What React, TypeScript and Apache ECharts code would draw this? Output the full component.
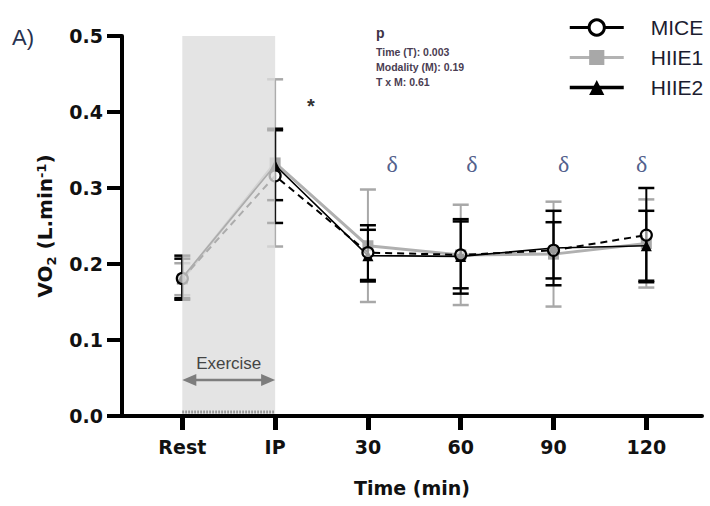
import React, { useEffect, useRef } from "react";
import * as echarts from "echarts";

const categories = ["Rest", "IP", "30", "60", "90", "120"];
const positions = [0, 1, 2, 3, 4, 5];

const miceMean = [0.181, 0.316, 0.215, 0.212, 0.218, 0.238];
const miceSd = [0.026, 0.062, 0.036, 0.044, 0.037, 0.062];
const hiie1Mean = [0.18, 0.333, 0.224, 0.212, 0.213, 0.227];
const hiie1Sd = [0.021, 0.11, 0.074, 0.066, 0.069, 0.058];
const hiie2Mean = [0.182, 0.33, 0.211, 0.21, 0.221, 0.224];
const hiie2Sd = [0.029, 0.046, 0.034, 0.049, 0.049, 0.046];

const yTicks = [0, 0.1, 0.2, 0.3, 0.4, 0.5];
const deltaPos = [2.26, 3.12, 4.11, 4.95];
const statsLines = ["Time (T): 0.003", "Modality (M): 0.19", "T x M: 0.61"];

const FONT = "Liberation Sans";
const AXFONT = "DejaVu Sans";
const GRAY = "#a8a8a8";

function pts(mean: number[]) {
  return positions.map((p, i) => [p, mean[i]]);
}
function errs(mean: number[], sd: number[]) {
  return positions.map((p, i) => [p, mean[i] - sd[i], mean[i] + sd[i]]);
}

function errorSeries(name: string, data: number[][], color: string, z: number) {
  return {
    type: "custom",
    name,
    z,
    clip: false,
    data,
    encode: { x: 0, y: [1, 2] },
    renderItem: (params: any, api: any) => {
      const x = api.value(0);
      const lo = api.coord([x, api.value(1)]);
      const hi = api.coord([x, api.value(2)]);
      const hw = 8;
      return {
        type: "group",
        children: [
          { type: "line", shape: { x1: lo[0], y1: lo[1], x2: hi[0], y2: hi[1] }, style: { stroke: color, lineWidth: 2 } },
          { type: "line", shape: { x1: hi[0] - hw, y1: hi[1], x2: hi[0] + hw, y2: hi[1] }, style: { stroke: color, lineWidth: 2.5 } },
          { type: "line", shape: { x1: lo[0] - hw, y1: lo[1], x2: lo[0] + hw, y2: lo[1] }, style: { stroke: color, lineWidth: 2.5 } },
        ],
      };
    },
  };
}

export default function App() {
  const ref = useRef<HTMLDivElement>(null);

  useEffect(() => {
    document.body.style.margin = "0";
    const chart = echarts.init(ref.current!, null, { renderer: "svg" });

    const option: any = {
      animation: false,
      backgroundColor: "#ffffff",
      grid: { left: 122, right: 8, top: 36, bottom: 90, containLabel: false, outerBoundsMode: "none" },
      legend: {
        orient: "vertical",
        left: 563,
        top: 12,
        itemWidth: 54,
        itemHeight: 19,
        itemGap: 9,
        textStyle: { fontFamily: FONT, fontSize: 21, color: "#1c1c30", padding: [0, 0, 0, 22] },
        data: [
          { name: "MICE", lineStyle: { type: "solid", width: 3, color: "#000" }, itemStyle: { color: "#fff", borderColor: "#000", borderWidth: 3 } },
          { name: "HIIE1", lineStyle: { type: "solid", width: 3, color: "#b3b3b3" } },
          { name: "HIIE2", lineStyle: { type: "solid", width: 3.5, color: "#000" } },
        ],
      },
      xAxis: {
        type: "value",
        min: -0.65,
        max: 5.6,
        splitLine: { show: false },
        axisLine: { show: true, lineStyle: { color: "#000", width: 4 } },
        axisTick: { show: true, customValues: positions, length: 14, lineStyle: { color: "#000", width: 5 } },
        axisLabel: {
          customValues: positions,
          margin: 21,
          fontFamily: AXFONT,
          fontSize: 19,
          fontWeight: "bold",
          color: "#111",
          formatter: (v: number) => categories[Math.round(v)] ?? "",
        },
        name: "Time (min)",
        nameLocation: "middle",
        nameGap: 62,
        nameTextStyle: { fontFamily: AXFONT, fontSize: 19, fontWeight: "bold", color: "#111" },
      },
      yAxis: {
        type: "value",
        min: 0,
        max: 0.5,
        interval: 0.1,
        splitLine: { show: false },
        axisLine: { show: true, onZero: false, lineStyle: { color: "#000", width: 4 } },
        axisTick: { show: true, length: 15, lineStyle: { color: "#000", width: 4 } },
        axisLabel: {
          margin: 19,
          fontFamily: AXFONT,
          fontSize: 19,
          fontWeight: "bold",
          color: "#111",
          formatter: (v: number) => {
            const t = yTicks.find((k) => Math.abs(k - v) < 1e-6);
            return (t ?? v).toFixed(1);
          },
        },
        name: "{a|VO}{b|2}{a| (L.min}{c|-1}{a|)}",
        nameLocation: "middle",
        nameRotate: 90,
        nameGap: 66,
        nameTextStyle: {
          rich: {
            a: { fontFamily: AXFONT, fontSize: 20, fontWeight: "bold", color: "#111" },
            b: { fontFamily: AXFONT, fontSize: 13, fontWeight: "bold", color: "#111", verticalAlign: "bottom", padding: [0, 0, -3, 0] },
            c: { fontFamily: AXFONT, fontSize: 13, fontWeight: "bold", color: "#111", verticalAlign: "top" },
          },
        },
      },
      series: [
        errorSeries("HIIE1 err", errs(hiie1Mean, hiie1Sd), GRAY, 2),
        errorSeries("HIIE2 err", errs(hiie2Mean, hiie2Sd), "#000", 4),
        errorSeries("MICE err", errs(miceMean, miceSd), "#000", 4),
        {
          type: "line",
          name: "HIIE1",
          z: 3,
          data: pts(hiie1Mean),
          symbol: "rect",
          symbolSize: 11,
          lineStyle: { color: "#b0b0b0", width: 3 },
          itemStyle: { color: GRAY },
        },
        {
          type: "line",
          name: "HIIE2",
          z: 5,
          data: pts(hiie2Mean),
          symbol: "triangle",
          symbolSize: 11,
          lineStyle: { color: "#000", width: 1.6 },
          itemStyle: { color: "#000" },
        },
        {
          type: "line",
          name: "MICE",
          z: 6,
          data: pts(miceMean),
          symbol: "circle",
          symbolSize: 11,
          lineStyle: { color: "#000", width: 2, type: [7, 5] },
          itemStyle: { color: "rgba(255,255,255,0.6)", borderColor: "#000", borderWidth: 2.2 },
        },
        {
          type: "custom",
          name: "Exercise",
          z: 10,
          clip: false,
          silent: true,
          data: [[0]],
          renderItem: (params: any, api: any) => {
            const p0 = api.coord([0, 0.5]);
            const p1 = api.coord([1, 0]);
            const ya = api.coord([0, 0.0475])[1];
            const yt = api.coord([0, 0.069])[1];
            const x0 = p0[0];
            const x1 = p1[0];
            const arrowColor = "#7d7d7d";
            return {
              type: "group",
              children: [
                {
                  type: "rect",
                  shape: { x: x0, y: p0[1], width: x1 - x0, height: p1[1] - p0[1] - 2 },
                  style: { fill: "rgba(220,220,220,0.78)" },
                },
                {
                  type: "line",
                  shape: { x1: x0, y1: p1[1] - 4, x2: x1, y2: p1[1] - 4 },
                  style: { stroke: "#8a8a8a", lineWidth: 3, lineDash: [1.5, 1.5] },
                },
                {
                  type: "line",
                  shape: { x1: x0 + 8, y1: ya, x2: x1 - 8, y2: ya },
                  style: { stroke: arrowColor, lineWidth: 2.5 },
                },
                {
                  type: "polygon",
                  shape: { points: [[x0, ya], [x0 + 14, ya - 6], [x0 + 14, ya + 6]] },
                  style: { fill: arrowColor },
                },
                {
                  type: "polygon",
                  shape: { points: [[x1, ya], [x1 - 14, ya - 6], [x1 - 14, ya + 6]] },
                  style: { fill: arrowColor },
                },
                {
                  type: "text",
                  x: (x0 + x1) / 2,
                  y: yt,
                  style: {
                    text: "Exercise",
                    fontFamily: FONT,
                    fontSize: 17,
                    fill: "#444",
                    align: "center",
                    verticalAlign: "middle",
                  },
                },
              ],
            };
          },
        },
        {
          type: "scatter",
          name: "delta",
          z: 7,
          silent: true,
          symbolSize: 0,
          data: deltaPos.map((p) => [p, 0.331]),
          label: {
            show: true,
            formatter: "δ",
            position: "inside",
            fontFamily: "Liberation Serif",
            fontSize: 24,
            color: "#25366e",
          },
        },
      ],
      graphic: [
        {
          type: "text",
          left: 12,
          top: 26,
          style: { text: "A)", fontFamily: FONT, fontSize: 22, fill: "#27324f" },
        },
        {
          type: "text",
          x: 311,
          y: 106,
          style: { text: "*", fontFamily: FONT, fontSize: 20, fontWeight: "bold", fill: "#333", align: "center", verticalAlign: "middle" },
        },
        {
          type: "text",
          x: 376,
          y: 33,
          style: { text: "p", fontFamily: FONT, fontSize: 14, fontWeight: "bold", fill: "#3d3346", verticalAlign: "middle" },
        },
        ...statsLines.map((t, i) => ({
          type: "text",
          x: 376,
          y: 52 + i * 15,
          style: { text: t, fontFamily: FONT, fontSize: 10.5, fontWeight: "bold", fill: "#4a3d52", verticalAlign: "middle" },
        })),
      ],
    };

    chart.setOption(option);
    return () => chart.dispose();
  }, []);

  return <div ref={ref} style={{ width: 710, height: 506 }} />;
}
